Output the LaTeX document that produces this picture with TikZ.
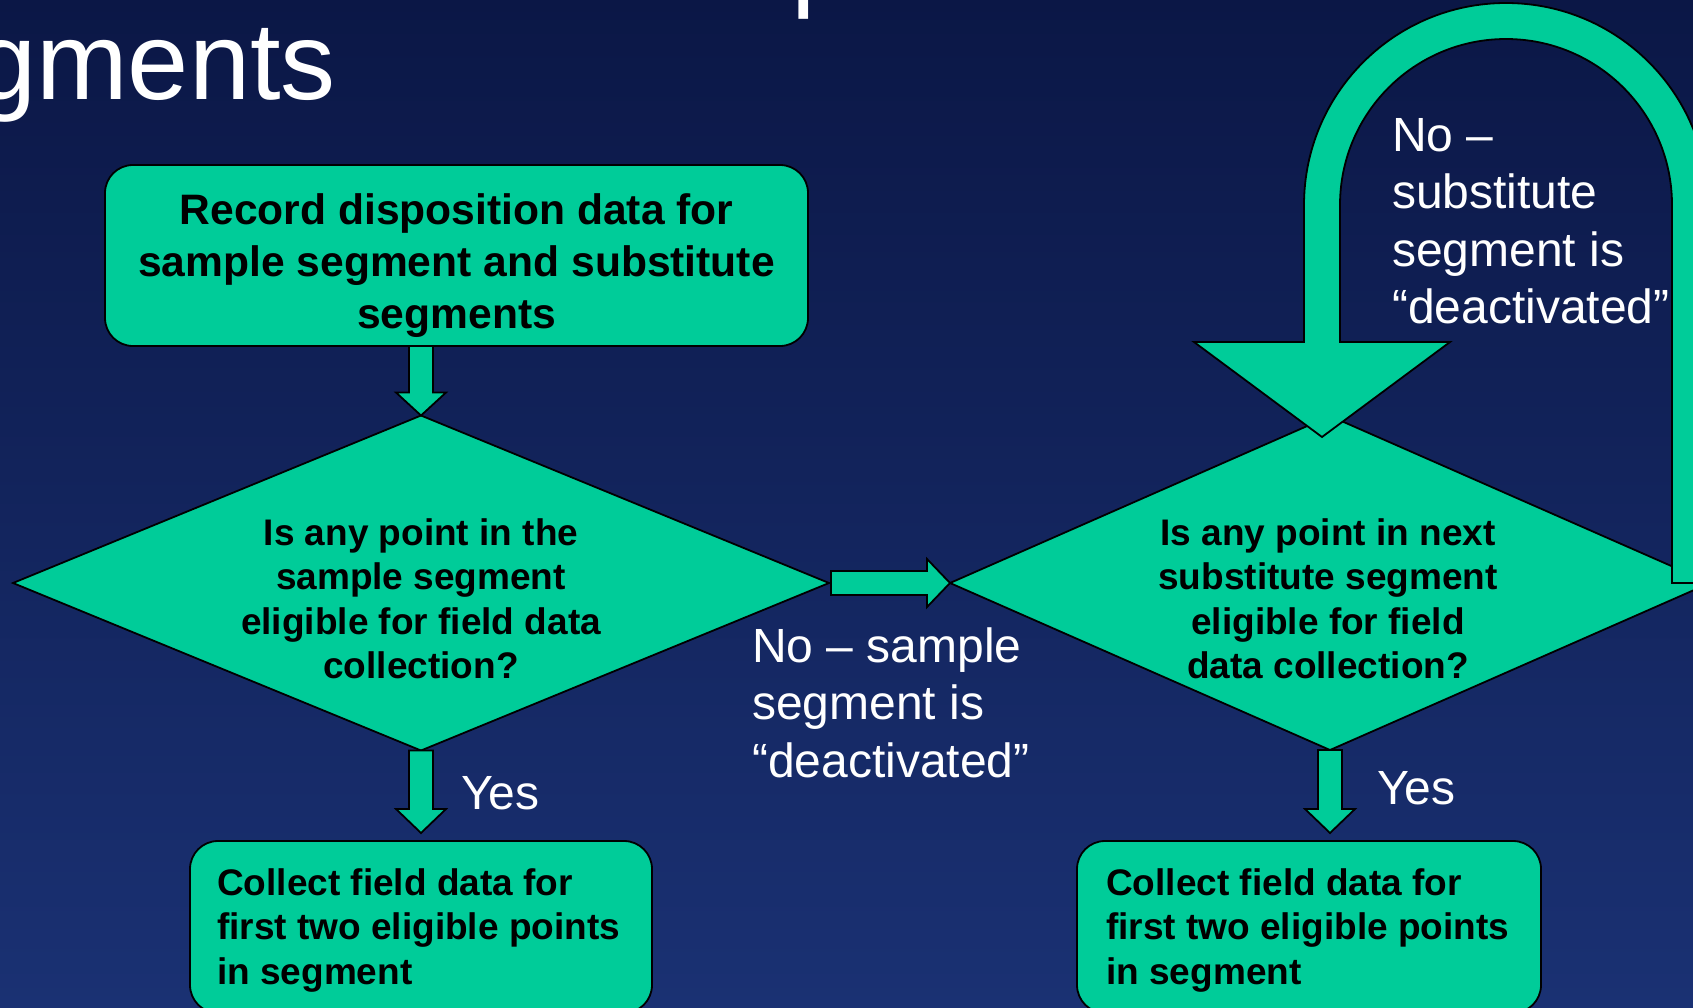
\documentclass[tikz,border=0pt]{standalone}
\usepackage{fontspec}
\setmainfont{Liberation Sans}
\usetikzlibrary{shapes.geometric,calc}
\definecolor{tealgreen}{RGB}{0,204,153}
\definecolor{bgtop}{RGB}{11,23,70}
\definecolor{bgbot}{RGB}{26,49,115}
\tikzset{
  shapeline/.style={draw=black, line width=1.8pt, fill=tealgreen},
  procbox/.style={shapeline, rectangle, rounded corners=28pt, inner sep=0pt, outer sep=0pt},
  decision/.style={shapeline, diamond, inner sep=0pt, outer sep=0pt},
  blockarrow/.style={shapeline, line join=miter},
  boldtext/.style={text=black, inner sep=0pt, font=\bfseries\fontsize{37}{44.6}\selectfont},
  labeltext/.style={text=white, inner sep=0pt, font=\fontsize{48}{57.5}\selectfont},
  titletext/.style={text=white, inner sep=0pt, anchor=base west, font=\fontsize{110}{120}\selectfont},
}
\newcommand\downblockarrow[2]{%
  \draw[blockarrow] ($(#1)+(-12,0)$) -- ($(#2)+(-12,-24)$) -- ($(#2)+(-25,-24)$) -- (#2)
    -- ($(#2)+(25,-24)$) -- ($(#2)+(12,-24)$) -- ($(#1)+(12,0)$) -- cycle;}
\begin{document}
\begin{tikzpicture}[x=1pt,y=-1pt]
\useasboundingbox (0,0) rectangle (1693,1007);
\clip (0,0) rectangle (1693,1007);
\shade[top color=bgtop,bottom color=bgbot] (0,0) rectangle (1693,1007);

% title fragments
\node[titletext] (titleA) at (791,-4) {p};
\node[titletext] (titleB) at (-25,99) {gments};

% shapes
\node[procbox, minimum width=703pt, minimum height=181pt] (top) at (456.5,255.5) {};
\node[decision, minimum width=816pt, minimum height=335pt] (d1) at (421,583) {};
\node[decision, minimum width=760pt, minimum height=334pt] (d2) at (1330,583) {};
\node[procbox, minimum width=462pt, minimum height=172pt] (b1) at (421,927) {};
\node[procbox, minimum width=464pt, minimum height=172pt] (b2) at (1309,927) {};

% connectors (block arrows)
\coordinate (a1s) at (d1.north |- top.south);
\draw[blockarrow] ($(a1s)+(-12,0)$) -- ($(d1.north)+(-12,-23)$) -- ($(d1.north)+(-25,-23)$) -- (d1.north)
  -- ($(d1.north)+(25,-23)$) -- ($(d1.north)+(12,-23)$) -- ($(a1s)+(12,0)$) -- cycle;

\draw[blockarrow] ($(d1.east)+(2,-12)$) -- ($(d2.west)+(-23,-12)$) -- ($(d2.west)+(-23,-24)$) -- (d2.west)
  -- ($(d2.west)+(-23,24)$) -- ($(d2.west)+(-23,12)$) -- ($(d1.east)+(2,12)$) -- cycle;

\coordinate (y1t) at ($(b1.north -| d1.south)+(0,-8)$);
\coordinate (y2t) at ($(b2.north -| d2.south)+(0,-8)$);
\downblockarrow{d1.south}{y1t}
\downblockarrow{d2.south}{y2t}

\coordinate (lt) at ($(d2.north)+(-8,21)$);
\coordinate (lf) at ($(d2.east)+(-20,0)$);
\draw[blockarrow] ($(lf)+(-18,0)$) -- ($(lf)+(-18,-378)$) arc[start angle=0,end angle=180,radius=166pt]
  -- ($(lt)+(18,-95)$) -- ($(lt)+(128,-95)$) -- (lt) -- ($(lt)+(-128,-95)$) -- ($(lt)+(-18,-95)$)
  -- ($(lt)+(-18,-232)$) arc[start angle=180,end angle=0,radius=202pt] -- ($(lf)+(18,0)$) -- cycle;

% texts in shapes
\node[boldtext, font=\bfseries\fontsize{42.6}{52}\selectfont, align=center] (toptext) at ($(top.center)+(0,10.7)$)
  {\strut Record disposition data for\\\strut sample segment and substitute\\\strut segments};
\node[boldtext, align=center] (d1text) at ($(d1.center)+(0,20)$)
  {\strut Is any point in the\\\strut sample segment\\\strut eligible for field data\\\strut collection?};
\node[boldtext, align=center] (d2text) at ($(d2.center)+(-2,20)$)
  {\strut Is any point in next\\\strut substitute segment\\\strut eligible for field\\\strut data collection?};
\node[boldtext, align=left, anchor=north west] (b1text) at ($(b1.north west)+(27,22.8)$)
  {\strut Collect field data for\\\strut first two eligible points\\\strut in segment};
\node[boldtext, align=left, anchor=north west] (b2text) at ($(b2.north west)+(29,22.8)$)
  {\strut Collect field data for\\\strut first two eligible points\\\strut in segment};

% connector labels
\node[labeltext, align=left, anchor=north west] (nosub) at (1392,110.75)
  {\strut No –\\\strut substitute\\\strut segment is\\\strut “deactivated”};
\node[labeltext, align=left, anchor=north west] (nosample) at (752,621.75)
  {\strut No – sample\\\strut segment is\\\strut “deactivated”};
\node[labeltext, anchor=base west] (yes1) at (461,809) {Yes};
\node[labeltext, anchor=base west] (yes2) at (1377,804) {Yes};
\end{tikzpicture}
\end{document}
